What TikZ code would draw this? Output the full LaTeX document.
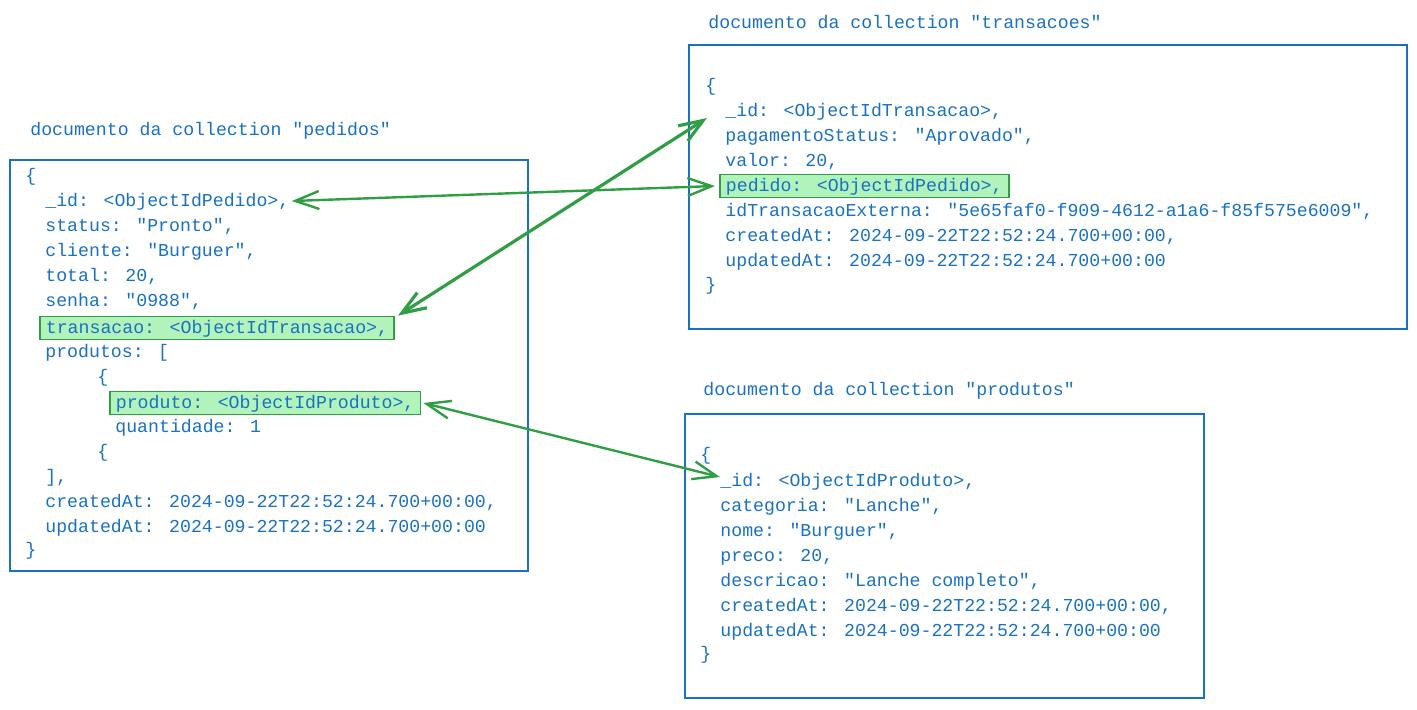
\documentclass[tikz,border=0pt]{standalone}
\usepackage{fontspec}
\setmainfont{Liberation Mono}[Ligatures=TeXOff]
\usepackage{tikz}
\usetikzlibrary{arrows.meta}
\definecolor{myblue}{HTML}{1971C2}
\definecolor{mygreen}{HTML}{2F9E44}
\definecolor{hdrgreen}{HTML}{B2F2BB}
\tikzset{
  codeline/.style={anchor=west, inner xsep=3pt, inner ysep=1.25pt,
    text height=7pt, text depth=2pt, color=myblue,
    font=\fontsize{9.1pt}{12.5pt}\selectfont},
  hlline/.style={codeline, fill=hdrgreen, draw=mygreen, line width=0.9pt},
  doctitle/.style={anchor=west, inner sep=0pt, color=myblue,
    font=\fontsize{9.1pt}{12.5pt}\selectfont},
  docbox/.style={draw=myblue, line width=1pt},
  link/.style={{Straight Barb[length=12pt,width=9pt]}-{Straight Barb[length=12pt,width=9pt]},
    color=mygreen, line width=1.2pt}
}
\begin{document}
\begin{tikzpicture}[x=0.5pt,y=-0.5pt]
  \useasboundingbox (0,0) rectangle (1417,709);
  % pedidos document
  \node[doctitle] (tPed) at (30,131) {documento da collection "pedidos"};
  \draw[docbox] (10,160) rectangle (528,571);
  \node[codeline] (p0) at (19,176) {\{};
  \node[codeline] (pId) at (39,201) {\_id: <ObjectIdPedido>,};
  \node[codeline] (p2) at (39,226) {status: "Pronto",};
  \node[codeline] (p3) at (39,251) {cliente: "Burguer",};
  \node[codeline] (p4) at (39,276) {total: 20,};
  \node[codeline] (p5) at (39,301) {senha: "0988",};
  \node[hlline] (pTrans) at (39,328) {transacao: <ObjectIdTransacao>,};
  \node[codeline] (p7) at (39,352) {produtos: [};
  \node[codeline] (p8) at (91,377) {\{};
  \node[hlline] (pProd) at (109,403) {produto: <ObjectIdProduto>,};
  \node[codeline] (p10) at (109,427) {quantidade: 1};
  \node[codeline] (p11) at (91,452) {\{};
  \node[codeline] (p12) at (39,477) {],};
  \node[codeline] (p13) at (39,502) {createdAt: 2024-09-22T22:52:24.700+00:00,};
  \node[codeline] (p14) at (39,527) {updatedAt: 2024-09-22T22:52:24.700+00:00};
  \node[codeline] (p15) at (19,550) {\}};
  % transacoes document
  \node[doctitle] (tTra) at (708,22) {documento da collection "transacoes"};
  \draw[docbox] (689,45) rectangle (1407,329);
  \node[codeline] (t0) at (699,86) {\{};
  \node[codeline] (tId) at (719,111) {\_id: <ObjectIdTransacao>,};
  \node[codeline] (t2) at (719,136) {pagamentoStatus: "Aprovado",};
  \node[codeline] (t3) at (719,161) {valor: 20,};
  \node[hlline] (tPedido) at (719,186) {pedido: <ObjectIdPedido>,};
  \node[codeline] (t5) at (719,211) {idTransacaoExterna: "5e65faf0-f909-4612-a1a6-f85f575e6009",};
  \node[codeline] (t6) at (719,236) {createdAt: 2024-09-22T22:52:24.700+00:00,};
  \node[codeline] (t7) at (719,261) {updatedAt: 2024-09-22T22:52:24.700+00:00};
  \node[codeline] (t8) at (699,285) {\}};
  % produtos document
  \node[doctitle] (tPro) at (703,391) {documento da collection "produtos"};
  \draw[docbox] (685,414) rectangle (1204,698);
  \node[codeline] (r0) at (694,455) {\{};
  \node[codeline] (prId) at (714,481) {\_id: <ObjectIdProduto>,};
  \node[codeline] (r2) at (714,506) {categoria: "Lanche",};
  \node[codeline] (r3) at (714,531) {nome: "Burguer",};
  \node[codeline] (r4) at (714,556) {preco: 20,};
  \node[codeline] (r5) at (714,581) {descricao: "Lanche completo",};
  \node[codeline] (r6) at (714,606) {createdAt: 2024-09-22T22:52:24.700+00:00,};
  \node[codeline] (r7) at (714,631) {updatedAt: 2024-09-22T22:52:24.700+00:00};
  \node[codeline] (r8) at (694,654) {\}};
  % references
  \draw[link] ([xshift=-2pt]pId.east) -- ([xshift=-2pt]tPedido.west);
  \draw[link,line width=1.6pt] ([xshift=1.5pt]pTrans.north east) -- ([shift={(-6pt,-3.5pt)}]tId.west);
  \draw[link] ([xshift=1pt]pProd.east) -- ([shift={(3pt,2pt)}]prId.west);
\end{tikzpicture}
\end{document}
